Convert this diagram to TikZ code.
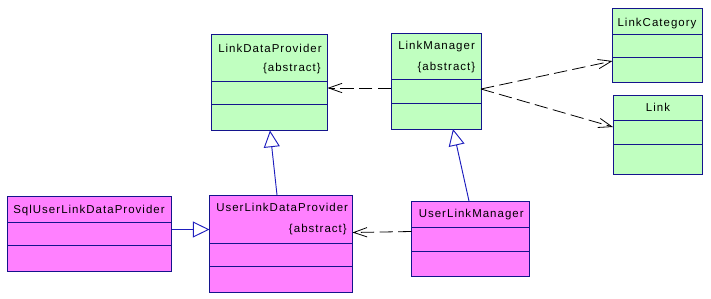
\documentclass[tikz,border=0pt]{standalone}
\usepackage{fontspec}
\setmainfont{Liberation Sans}[LetterSpace=9]
\usetikzlibrary{arrows.meta,fit}
\definecolor{umlborder}{RGB}{20,20,140}
\definecolor{umlgen}{RGB}{30,30,190}
\definecolor{umlgreen}{RGB}{192,255,192}
\definecolor{umlpink}{RGB}{255,128,255}
\tikzset{
  classbox/.style={draw=umlborder,line width=0.7pt,inner sep=0pt,outer sep=0pt},
  compart/.style={umlborder,line width=0.7pt},
  cname/.style={anchor=base west,inner sep=0pt,font=\fontsize{8.6}{10}\selectfont},
  ctag/.style={anchor=base east,inner sep=0pt,font=\fontsize{8.6}{10}\selectfont},
  dep/.style={black,line width=0.6pt,dash pattern=on 10pt off 4pt,-{Straight Barb[length=10pt,width=7pt]}},
  gen/.style={umlgen,line width=0.7pt,-{Triangle[open,length=12.5pt,width=12pt,fill=white]}},
}
\newcommand{\umlclass}[8]{% name, x1, y1, x2, y2, sep1, sep2, fill
  \coordinate (#1-nw) at (#2,#3);
  \coordinate (#1-se) at (#4,#5);
  \node[classbox,fill=#8,fit=(#1-nw)(#1-se)] (#1) {};
  \draw[compart] (#1.west |- 0,#6) -- (#1.east |- 0,#6);
  \draw[compart] (#1.west |- 0,#7) -- (#1.east |- 0,#7);
}

\begin{document}
\begin{tikzpicture}[x=0.75pt,y=-0.75pt]
  \useasboundingbox (0,0) rectangle (711,298);
  % class boxes
  \umlclass{ldp}{211}{34}{327.5}{130.5}{81.5}{104}{umlgreen}
  \umlclass{lm}{391}{33.5}{481}{129}{79}{103}{umlgreen}
  \umlclass{lc}{612.5}{8.5}{702}{82.5}{34.5}{57.5}{umlgreen}
  \umlclass{lnk}{613}{95.5}{702}{174}{120.5}{144.5}{umlgreen}
  \umlclass{suldp}{7.5}{196}{171.5}{271}{222.5}{245.5}{umlpink}
  \umlclass{uldp}{209.5}{195}{352.5}{292}{243}{266.5}{umlpink}
  \umlclass{ulm}{411.5}{201}{529}{276.5}{227.5}{251.5}{umlpink}
  % names
  \node[cname] (ldp-name) at (218,52) {LinkDataProvider};
  \node[ctag] (ldp-tag) at (321,71) {\{abstract\}};
  \node[cname] (lm-name) at (398,49.5) {LinkManager};
  \node[ctag] (lm-tag) at (475.5,70) {\{abstract\}};
  \node[cname,anchor=base] (lc-name) at (657,26) {LinkCategory};
  \node[cname,anchor=base] (lnk-name) at (658,111.5) {Link};
  \node[cname] (suldp-name) at (13,213.5) {SqlUserLinkDataProvider};
  \node[cname] (uldp-name) at (216,211) {UserLinkDataProvider};
  \node[ctag] (uldp-tag) at (347,232.5) {\{abstract\}};
  \node[cname] (ulm-name) at (418.5,217.5) {UserLinkManager};
  % dependencies
  \draw[dep] (lm.west |- 0,88) -- (ldp.east |- 0,88);
  \draw[dep] (lm.east |- 0,89) -- (lc.west |- 0,61);
  \draw[dep] (lm.east |- 0,89) -- (lnk.west |- 0,127);
  \draw[dep] (ulm.west |- 0,231.5) -- (uldp.east |- 0,232.5);
  % generalizations
  \draw[gen] (uldp.north -| 277,0) -- (ldp.south -| 270,0);
  \draw[gen] (ulm.north -| 469,0) -- (lm.south -| 453,0);
  \draw[gen] (suldp.east |- 0,229.5) -- (uldp.west |- 0,229.5);
\end{tikzpicture}
\end{document}
